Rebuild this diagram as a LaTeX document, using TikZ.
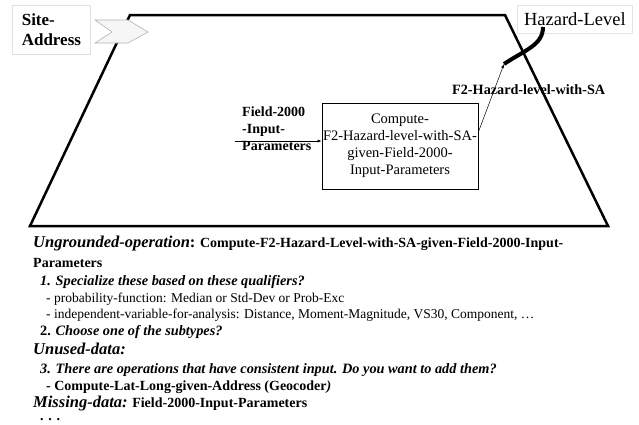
\documentclass[tikz,border=0pt]{standalone}
\usepackage{fontspec}
\setmainfont{Liberation Serif}
\usetikzlibrary{arrows.meta,calc}
\begin{document}
\begin{tikzpicture}[x=1pt,y=-1pt,
  txt/.style={inner sep=0pt, anchor=base west, font=\fontsize{14}{16}\selectfont\bfseries},
  itm/.style={inner sep=0pt, anchor=base west, font=\fontsize{14.3}{16}\selectfont\bfseries\itshape},
  reg/.style={inner sep=0pt, anchor=base west, font=\fontsize{13.5}{15}\selectfont},
  head/.style={inner sep=0pt, anchor=base west, font=\fontsize{16.5}{18}\selectfont\bfseries\itshape},
  thinarrow/.style={-{Latex[length=4pt,width=3pt]}, line width=0.5pt},
  frame/.style={line width=2.5pt, line join=miter},
  lightbox/.style={fill=white, line width=0.8pt}]
\useasboundingbox (0,0) rectangle (639,424);
\fill[white] (0,0) rectangle (639,424);
% trapezoid
\draw[frame] (130,15) -- (505,15) -- (608,226) -- (30,226) -- cycle;
% chevron
\draw[fill=gray!7, draw=gray!60, line width=0.6pt] (95,20) -- (128,20) -- (148,32) -- (128,43) -- (95,43) -- (112,32) -- cycle;
% site-address box
\node[lightbox, draw=gray!25, minimum width=78pt, minimum height=49pt, anchor=north west, align=left,
  font=\fontsize{17}{20}\selectfont\bfseries, inner sep=0pt] (site) at (12,5) {Site-\\Address};
% hazard-level box
\node[lightbox, draw=gray!20, anchor=north west, minimum width=115pt, minimum height=28pt, inner sep=0pt,
  font=\fontsize{18.5}{20}\selectfont] (hz) at (517,5) {Hazard-Level};
% operation box
\node[draw, line width=0.6pt, minimum width=156pt, minimum height=86pt, align=center, inner sep=0pt,
  font=\fontsize{14.5}{17}\selectfont] (op) at (400,146) {Compute-\\F2-Hazard-level-with-SA-\\given-Field-2000-\\Input-Parameters};
% input label and arrow
\node[anchor=north west, align=left, inner sep=0pt, font=\fontsize{14}{17}\selectfont\bfseries] (inl) at (242,107) {Field-2000\\-Input-\\Parameters};
\coordinate (inp) at (235,141);
\draw[thinarrow] (inp) -- (op.west |- inp);
% output
\coordinate (outp) at (504,64);
\coordinate (hzin) at (543,27);
\draw[thinarrow] (op.10) -- (outp);
\node[inner sep=0pt, anchor=west, font=\fontsize{14.2}{15}\selectfont\bfseries] (outl) at (452,90) {F2-Hazard-level-with-SA};
\draw[line width=4pt] (outp) .. controls (525,50) and (543,45) .. (hzin);
% bottom text
\node[txt] (l1) at (33,247) {{\fontsize{16.5}{18}\selectfont\itshape Ungrounded-operation}{\fontsize{16.5}{18}\selectfont:} Compute-F2-Hazard-Level-with-SA-given-Field-2000-Input-};
\node[txt] (l2) at (33,267) {Parameters};
\node[itm] (l3) at (40,285) {1. Specialize these based on these qualifiers?};
\node[reg] (l4) at (46,302) {- probability-function: Median or Std-Dev or Prob-Exc};
\node[reg] (l5) at (46,318) {- independent-variable-for-analysis: Distance, Moment-Magnitude, VS30, Component, …};
\node[itm] (l6) at (40,335) {\upshape 2. \itshape Choose one of the subtypes?};
\node[head] (l7) at (33,354) {Unused-data:};
\node[itm] (l8) at (40,373) {3. There are operations that have consistent input. Do you want to add them?};
\node[txt] (l9) at (46,390) {- Compute-Lat-Long-given-Address (Geocoder\textit{)}};
\node[txt] (l10) at (33,407) {{\fontsize{16.5}{18}\selectfont\itshape Missing-data:} Field-2000-Input-Parameters};
\node[txt] (l11) at (40,420) {. . .};
\end{tikzpicture}
\end{document}
